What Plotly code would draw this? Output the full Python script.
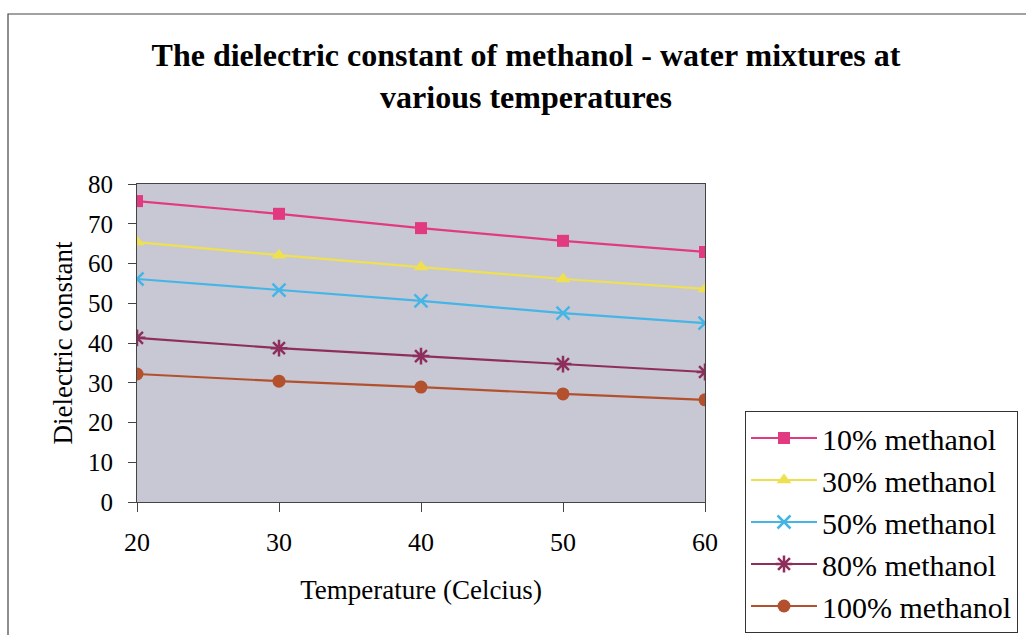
import plotly.graph_objects as go

temps = [20, 30, 40, 50, 60]
series_names = ["10% methanol", "30% methanol", "50% methanol", "80% methanol", "100% methanol"]
m10 = [75.7, 72.5, 68.9, 65.7, 62.9]
m30 = [65.4, 62.1, 59.1, 56.1, 53.6]
m50 = [56.1, 53.3, 50.6, 47.5, 45.0]
m80 = [41.3, 38.7, 36.7, 34.7, 32.7]
m100 = [32.2, 30.4, 28.9, 27.2, 25.7]
y_ticks = [0, 10, 20, 30, 40, 50, 60, 70, 80]
x_ticks = [20, 30, 40, 50, 60]

values = [m10, m30, m50, m80, m100]
colors = ["#e23a80", "#eee050", "#45b5e6", "#8e2e5c", "#b3512f"]
symbols = ["square", "triangle-up", "x-thin-open", "asterisk-open", "circle"]
sizes = [12, 13, 13, 14, 13]

FONT = "Liberation Serif, Times New Roman, serif"

fig = go.Figure()
for i, (name, vals) in enumerate(zip(series_names, values)):
    open_sym = symbols[i].endswith("open")
    fig.add_trace(go.Scatter(
        x=temps, y=vals, name=name, mode="lines+markers",
        line=dict(color=colors[i], width=2.2),
        marker=dict(symbol=symbols[i], size=sizes[i], color=colors[i],
                    line=dict(color=colors[i], width=2.5 if open_sym else 0)),
    ))

L, R, T, B = 137, 705, 184, 502
W, H = 1026, 635
pw, ph = R - L, B - T

def px(x):
    return (x - L) / pw

def py(y):
    return (B - y) / ph

fig.update_layout(
    width=W, height=H,
    margin=dict(l=L, r=W - R, t=T, b=H - B, autoexpand=False),
    paper_bgcolor="white",
    plot_bgcolor="#c7c8d4",
    font=dict(family=FONT, size=26, color="black"),
    title=dict(
        text="<b>The dielectric constant of methanol - water mixtures at<br>various temperatures</b>",
        x=526 / W, xanchor="center", xref="container",
        y=1 - 66 / H, yanchor="top", yref="container",
        font=dict(family=FONT, size=32, color="black"),
    ),
    xaxis=dict(
        range=[20, 60], tickvals=x_ticks, ticks="outside", ticklen=9,
        tickcolor="#444", showline=True, linecolor="#444", linewidth=1.2,
        mirror=True, showgrid=False, zeroline=False, automargin=False,
        tickfont=dict(family=FONT, size=26), ticklabelstandoff=8,
        title=dict(text="Temperature (Celcius)", font=dict(family=FONT, size=27), standoff=23),
    ),
    yaxis=dict(
        range=[0, 80], tickvals=y_ticks, ticks="outside", ticklen=8,
        tickcolor="#444", showline=True, linecolor="#444", linewidth=1.2,
        mirror=True, showgrid=False, zeroline=False, automargin=False,
        tickfont=dict(family=FONT, size=25), ticklabelstandoff=10,
        title=dict(text="Dielectric constant", font=dict(family=FONT, size=27), standoff=7),
    ),
    legend=dict(
        x=px(745), y=py(411), xanchor="left", yanchor="top",
        bordercolor="#333", borderwidth=1, bgcolor="white",
        font=dict(family=FONT, size=30, color="black"),
        itemwidth=66,
    ),
    showlegend=True,
)

fig.add_shape(type="rect", xref="paper", yref="paper",
              x0=px(8), x1=px(1060), y0=py(700), y1=py(14),
              line=dict(color="#444", width=1.2), fillcolor="rgba(0,0,0,0)", layer="below")

fig.write_html("out.html")
